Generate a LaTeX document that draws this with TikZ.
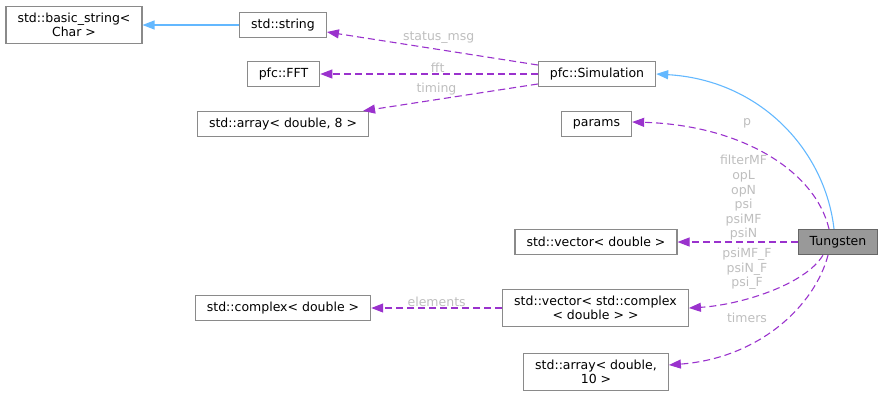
\documentclass[tikz,border=0pt]{standalone}
\usepackage{fontspec}
\setmainfont{DejaVu Sans}
\usetikzlibrary{arrows.meta}

\definecolor{inhblue}{HTML}{63B8FF}
\definecolor{usepurple}{HTML}{9A32CD}
\definecolor{boxgray}{HTML}{999999}
\definecolor{lblgray}{HTML}{BEBEBE}

\begin{document}
\begin{tikzpicture}[x=1pt, y=-1pt,
    cls/.style={draw=boxgray!90!black, fill=white, line width=1.2pt, inner xsep=11.5pt,
        inner ysep=6pt, minimum height=25pt, align=center,
        font=\fontsize{12.5}{14.6}\selectfont},
    this/.style={cls, fill=boxgray, draw=black!60},
    lbl/.style={text=lblgray, inner sep=1pt, align=center,
        font=\fontsize{12.5}{14.6}\selectfont},
    inh/.style={draw=inhblue, line width=1.1pt, -{Triangle[length=12pt,width=9pt]}},
    dep/.style={draw=usepurple, line width=1.1pt, dash pattern=on 7pt off 4pt,
        -{Triangle[length=12pt,width=9pt]}}]
    \useasboundingbox (0,0) rectangle (884,397);

    \node[cls] (basic) at (74,25) {std::basic\_string<\\Char >};
    \node[cls] (string) at (283,25) {std::string};
    \node[cls] (fft) at (283.5,74) {pfc::FFT};
    \node[cls] (arr8) at (283,124) {std::array< double, 8 >};
    \node[cls] (sim) at (597,74) {pfc::Simulation};
    \node[cls] (params) at (596.5,124) {params};
    \node[cls] (vecd) at (596,242) {std::vector< double >};
    \node[this] (tung) at (838,242) {Tungsten};
    \node[cls] (cplx) at (283,308) {std::complex< double >};
    \node[cls] (vecc) at (595.5,308) {std::vector< std::complex\\< double > >};
    \node[cls] (arr10) at (596,372) {std::array< double,\\10 >};

    \draw[inh] (string.west) -- (basic.east);
    \draw[inh] ([xshift=-4pt]tung.north) .. controls (825,150) and (760,80) .. (sim.east);

    \draw[dep] ([yshift=9pt]sim.west) -- node[lbl, above=4pt, pos=0.47] {status\_msg} ([yshift=-7pt]string.east);
    \draw[dep] (sim.west) -- node[lbl, above, pos=0.46] {fft} (fft.east);
    \draw[dep] ([yshift=-10pt]sim.west) -- node[lbl, above=3pt, pos=0.58] {timing} ([xshift=-6pt]arr8.north east);

    \draw[dep] ([xshift=-9pt]tung.north) .. controls (815,170) and (740,125) .. ([yshift=2pt]params.east);
    \node[lbl] (lp) at (747,123) {p};
    \draw[dep] (tung.west) -- node[lbl, above, pos=0.45] {filterMF\\opL\\opN\\psi\\psiMF\\psiN} (vecd.east);
    \draw[dep] ([xshift=-15pt]tung.south) .. controls (805,285) and (740,305) .. (vecc.east);
    \node[lbl] (lf) at (747,269) {psiMF\_F\\psiN\_F\\psi\_F};
    \draw[dep] ([xshift=-10pt]tung.south) .. controls (815,305) and (760,358) .. ([yshift=7pt]arr10.east);
    \node[lbl] (lt) at (747,318) {timers};

    \draw[dep] (vecc.west) -- node[lbl, above, pos=0.5] {elements} (cplx.east);
\end{tikzpicture}
\end{document}
